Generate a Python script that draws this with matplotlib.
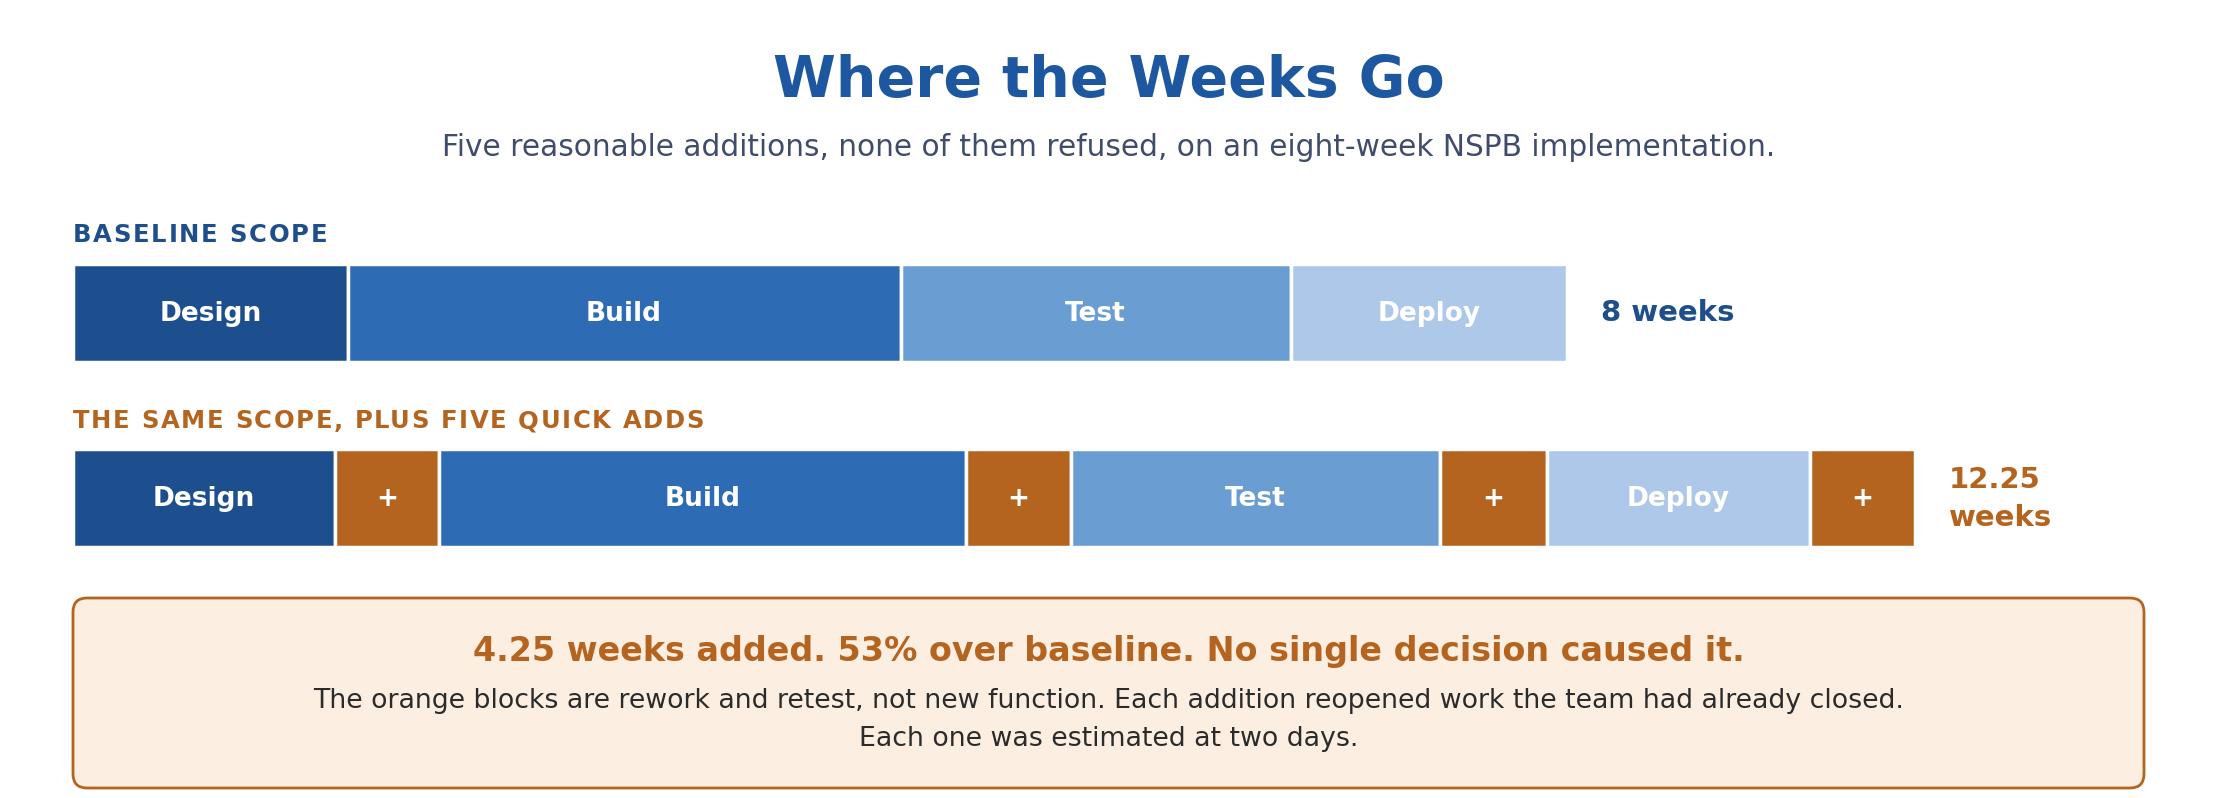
import matplotlib
matplotlib.use("Agg")
import matplotlib.pyplot as plt
from matplotlib.patches import FancyBboxPatch
from matplotlib.font_manager import FontProperties

# --- data (segment widths as drawn, in weeks of the baseline scale) ---
phases = ["Design", "Build", "Test", "Deploy"]
baseline_widths = [1.47, 2.96, 2.09, 1.48]
baseline_total = "8 weeks"

scoped_labels = ["Design", "+", "Build", "+", "Test", "+", "Deploy", "+"]
scoped_widths = [1.40, 0.56, 2.82, 0.56, 1.98, 0.57, 1.41, 0.56]
scoped_total = "12.25\nweeks"

title = "Where the Weeks Go"
subtitle = "Five reasonable additions, none of them refused, on an eight-week NSPB implementation."
row_titles = ["BASELINE SCOPE", "THE SAME SCOPE, PLUS FIVE QUICK ADDS"]
headline = "4.25 weeks added. 53% over baseline. No single decision caused it."
body = ("The orange blocks are rework and retest, not new function. Each addition reopened work the team had already closed.\n"
        "Each one was estimated at two days.")

# --- style ---
colors = {"Design": "#1d4f8e", "Build": "#2d6cb4", "Test": "#6a9ed3",
          "Deploy": "#adc8e9", "+": "#b4641e"}
BLUE_DARK = "#1f4e8c"
ORANGE = "#b4641e"

W, H, DPI = 2217, 798, 100
fig = plt.figure(figsize=(W / DPI, H / DPI), dpi=DPI)
fig.patch.set_facecolor("white")
renderer = fig.canvas.get_renderer()

# pixel-space axes for text and the callout box
deco = fig.add_axes([0, 0, 1, 1])
deco.set_xlim(0, W); deco.set_ylim(H, 0); deco.axis("off")

# bar axes: x in weeks, y in pixels (same vertical frame as deco)
X0, PX_PER_WEEK = 73, 186.8
ax = fig.add_axes([0, 0, 1, 1])
ax.set_xlim(-X0 / PX_PER_WEEK, (W - X0) / PX_PER_WEEK)
ax.set_ylim(H, 0); ax.axis("off")
ax.patch.set_alpha(0)

ROW1_Y, ROW2_Y, BAR_H = 313, 498, 98


def draw_row(labels, widths, y):
    left = 0.0
    for lab, w in zip(labels, widths):
        ax.barh(y, w, left=left, height=BAR_H, color=colors[lab],
                edgecolor="white", linewidth=2.5)
        ax.text(left + w / 2, y + 1, lab, ha="center", va="center",
                color="white", fontsize=19, fontweight="bold")
        left += w
    return left


def spaced_text(x, y, s, color, size, spacing):
    # caps label with letter spacing (px), drawn glyph by glyph
    prop = FontProperties(family="DejaVu Sans", weight="bold", size=size)

    def width(t):
        return renderer.get_text_width_height_descent(t, prop, ismath=False)[0]

    for i, ch in enumerate(s):
        if ch == " ":
            continue
        xi = x + width(s[:i + 1]) - width(ch) + i * spacing
        deco.text(xi, y, ch, ha="left", va="center", color=color,
                  fontproperties=prop)


end1 = draw_row(phases, baseline_widths, ROW1_Y)
end2 = draw_row(scoped_labels, scoped_widths, ROW2_Y)
ax.text(end1 + 0.18, ROW1_Y, baseline_total, ha="left", va="center",
        color=BLUE_DARK, fontsize=21, fontweight="bold")
ax.text(end2 + 0.18, ROW2_Y + 1, scoped_total, ha="left", va="center",
        color=ORANGE, fontsize=21, fontweight="bold", linespacing=1.42)

deco.text(W / 2, 81, title, ha="center", va="center", color="#1c57a0",
          fontsize=41, fontweight="bold")
deco.text(W / 2, 148, subtitle, ha="center", va="center", color="#3f4c6b",
          fontsize=21.3)
spaced_text(X0, 235, row_titles[0], BLUE_DARK, 17.5, 1.7)
spaced_text(X0, 421, row_titles[1], ORANGE, 17.5, 1.6)

box = FancyBboxPatch((X0, 598), 2144 - X0, 190,
                     boxstyle="round,pad=0,rounding_size=14",
                     facecolor="#fcefe1", edgecolor=ORANGE, linewidth=2)
deco.add_patch(box)
deco.text(W / 2, 651, headline, ha="center", va="center", color=ORANGE,
          fontsize=24, fontweight="bold")
deco.text(W / 2, 720, body, ha="center", va="center", color="#2b2b2b",
          fontsize=19.3, linespacing=1.6)

fig.savefig("out.png", dpi=DPI)
plt.close(fig)
